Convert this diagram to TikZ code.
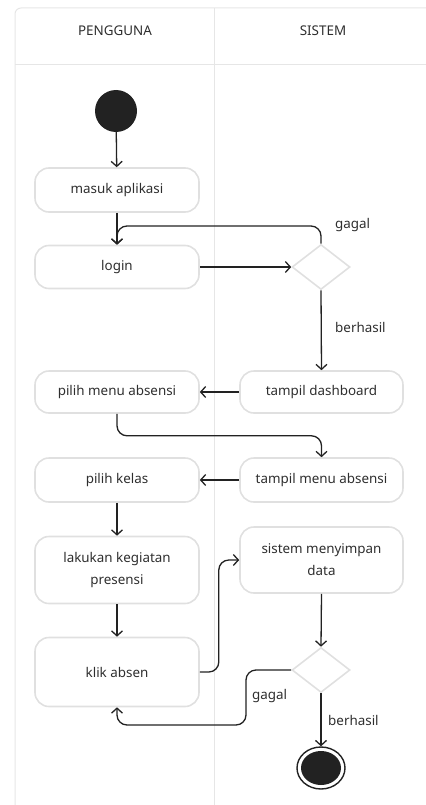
\documentclass[tikz,border=0pt]{standalone}
\usepackage{fontspec}
\setmainfont{Noto Sans}
\usetikzlibrary{arrows.meta,shapes.geometric}
\definecolor{boxline}{HTML}{E0E0E0}
\definecolor{frameline}{HTML}{E6E6E6}
\definecolor{ink}{HTML}{222222}
\definecolor{txt}{HTML}{2E2E2E}
\tikzset{
  actbox/.style={draw=boxline, line width=1.6bp, rounded corners=14bp, minimum width=164bp, align=center, text=txt, font=\fontsize{13.4bp}{22bp}\selectfont, inner sep=0pt},
  decis/.style={diamond, draw=boxline, line width=1.6bp, minimum width=58bp, minimum height=45bp, inner sep=0pt},
  conn/.style={draw=ink, line width=1.3bp, -{Straight Barb[length=5bp,width=11bp,line width=1.3bp]}},
  lbl/.style={text=txt, font=\fontsize{13.4bp}{16bp}\selectfont, anchor=west, inner sep=0pt},
  hdr/.style={text=txt, font=\fontsize{13.4bp}{16bp}\selectfont, inner sep=0pt}
}
\begin{document}
\begin{tikzpicture}[x=1bp,y=-1bp]
\useasboundingbox (0,0) rectangle (425,805);
% frame
\draw[frameline, line width=1bp, rounded corners=6bp] (15,806) -- (15,8) -- (426,8);
\draw[frameline, line width=1bp] (15,65) -- (426,65);
\draw[frameline, line width=1bp] (214,8) -- (214,806);
\node[hdr] (h1) at (115,31) {PENGGUNA};
\node[hdr] (h2) at (323,31) {SISTEM};
% nodes
\node[circle, fill=ink, minimum size=42bp, inner sep=0pt] (start) at (116,111) {};
\node[actbox, minimum height=44bp] (masuk) at (117,190) {masuk aplikasi};
\node[actbox, minimum height=43bp] (login) at (117,267) {login};
\node[decis] (d1) at (321,267) {};
\node[actbox, minimum height=42bp, minimum width=163bp] (dash) at (321.5,392) {tampil dashboard};
\node[actbox, minimum height=42bp] (menu) at (117,392) {pilih menu absensi};
\node[actbox, minimum height=44bp, minimum width=163bp] (tmenu) at (321.5,480) {tampil menu absensi};
\node[actbox, minimum height=44bp] (kelas) at (117,480) {pilih kelas};
\node[actbox, minimum height=67bp] (lakukan) at (117,570) {lakukan kegiatan\\presensi};
\node[actbox, minimum height=66bp, minimum width=163bp] (simpan) at (321.5,560) {sistem menyimpan\\data};
\node[actbox, minimum height=69bp] (klik) at (117,672) {klik absen};
\node[decis] (d2) at (321,670) {};
\node[ellipse, draw=ink, line width=1.4bp, minimum width=48bp, minimum height=42bp, inner sep=0pt] (end) at (321,768) {};
\node[ellipse, fill=ink, minimum width=40bp, minimum height=34bp, inner sep=0pt] (endin) at (321,768) {};
% helper coordinates
\coordinate (g1) at (117,226);
\coordinate (g2) at (246,725);
% connectors
\draw[conn] (start) -- (masuk);
\draw[conn] (masuk) -- (login);
\draw[conn, rounded corners=10bp] (d1.north) |- (g1) -- (login.north);
\draw[conn] (login.east) -- (d1.west);
\draw[conn] (d1.south) -- (dash.north);
\draw[conn] (dash.west) -- (menu.east);
\draw[conn, rounded corners=10bp] (menu.south) -- ++(0,22) -| (tmenu.north);
\draw[conn] (tmenu.west) -- (kelas.east);
\draw[conn] (kelas.south) -- (lakukan.north);
\draw[conn] (lakukan.south) -- (klik.north);
\draw[conn, rounded corners=10bp] (klik.east) -- ++(19,0) |- (simpan.west);
\draw[conn] (simpan.south) -- (d2.north);
\draw[conn, rounded corners=10bp] (d2.west) -| (g2) -| (klik.south);
\draw[conn] (d2.south) -- (end.north);
% labels
\node[lbl] (l1) at (335,225) {gagal};
\node[lbl] (l2) at (335,327) {berhasil};
\node[lbl] (l3) at (252,696) {gagal};
\node[lbl] (l4) at (328,720) {berhasil};
\end{tikzpicture}
\end{document}
